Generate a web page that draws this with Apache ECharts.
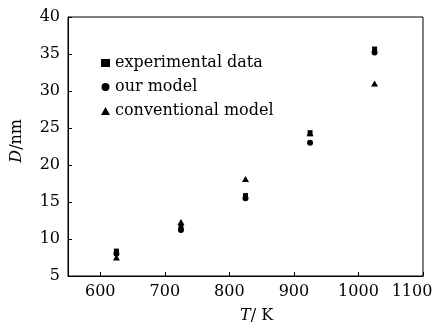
<!DOCTYPE html>
<html><head><meta charset="utf-8">
<script src="https://cdn.jsdelivr.net/npm/echarts@6/dist/echarts.min.js"></script>
<style>html,body{margin:0;padding:0;background:#fff}#c{width:437px;height:331px}</style>
</head><body><div id="c"></div>
<script>
const temperatures = [625, 725, 825, 925, 1025];
const experimentalData = [8.3, 11.5, 15.8, 24.3, 35.6];
const ourModel = [8.0, 11.2, 15.5, 23.0, 35.2];
const conventionalModel = [7.5, 12.3, 18.1, 24.3, 31.0];
const xTicks = [600, 700, 800, 900, 1000, 1100];
const seriesNames = ['experimental data', 'our model', 'conventional model'];

const font = 'DejaVu Serif';
const fs = 16;
function pairs(v){ return temperatures.map((t,i)=>[t, v[i]]); }

const chart = echarts.init(document.getElementById('c'), null, {renderer:'canvas'});
chart.setOption({
  animation: false,
  backgroundColor: '#fff',
  grid: {left: 68, right: 14, top: 17, bottom: 55, outerBoundsMode: 'none', containLabel: false,
    show: true, borderColor: '#000', borderWidth: 1, backgroundColor: 'transparent'},
  legend: {
    orient: 'vertical', left: 96, top: 50, itemGap: 8, itemWidth: 9, itemHeight: 8,
    textStyle: {fontFamily: font, fontSize: fs, color: '#000'},
    data: seriesNames
  },
  graphic: [
    {type: 'text', left: 9, top: 119, rotation: Math.PI/2,
      style: {text: '{i|D}/nm', font: fs + 'px ' + font, fill: '#000',
        rich: {i: {fontFamily: font, fontStyle: 'italic', fontSize: fs, fill: '#000'}}}},
    {type: 'text', left: 240, top: 308,
      style: {text: '{i|T}/ K', font: fs + 'px ' + font, fill: '#000',
        rich: {i: {fontFamily: font, fontStyle: 'italic', fontSize: fs, fill: '#000'}}}}
  ],
  xAxis: {
    type: 'value', min: 550, max: 1100,
    axisLine: {show: true, lineStyle: {color: '#000', width: 1}},
    axisTick: {show: true, inside: true, length: 4, lineStyle: {color: '#000'}, customValues: xTicks},
    axisLabel: {fontFamily: font, fontSize: fs, color: '#000', margin: 8, customValues: xTicks,
      formatter: v => v === 1100 ? '{e|1100}' : String(v),
      rich: {e: {fontFamily: font, fontSize: fs, color: '#000', padding: [0, 22, 0, 0]}}},
    splitLine: {show: false}
  },
  yAxis: {
    type: 'value', min: 5, max: 40, interval: 5,
    axisLine: {show: true, lineStyle: {color: '#000', width: 1}},
    axisTick: {show: true, inside: true, length: 4, lineStyle: {color: '#000'}},
    axisLabel: {fontFamily: font, fontSize: fs, color: '#000', margin: 8, formatter: v => String(v)},
    splitLine: {show: false}
  },
  series: [
    {name: seriesNames[0], type: 'scatter', symbol: 'rect', symbolSize: [5,6], itemStyle: {color: '#000', opacity: 1}, data: pairs(experimentalData)},
    {name: seriesNames[1], type: 'scatter', symbol: 'circle', symbolSize: 6, itemStyle: {color: '#000', opacity: 1}, data: pairs(ourModel)},
    {name: seriesNames[2], type: 'scatter', symbol: 'triangle', symbolSize: [7,6], itemStyle: {color: '#000', opacity: 1}, data: pairs(conventionalModel)}
  ]
});
</script></body></html>
